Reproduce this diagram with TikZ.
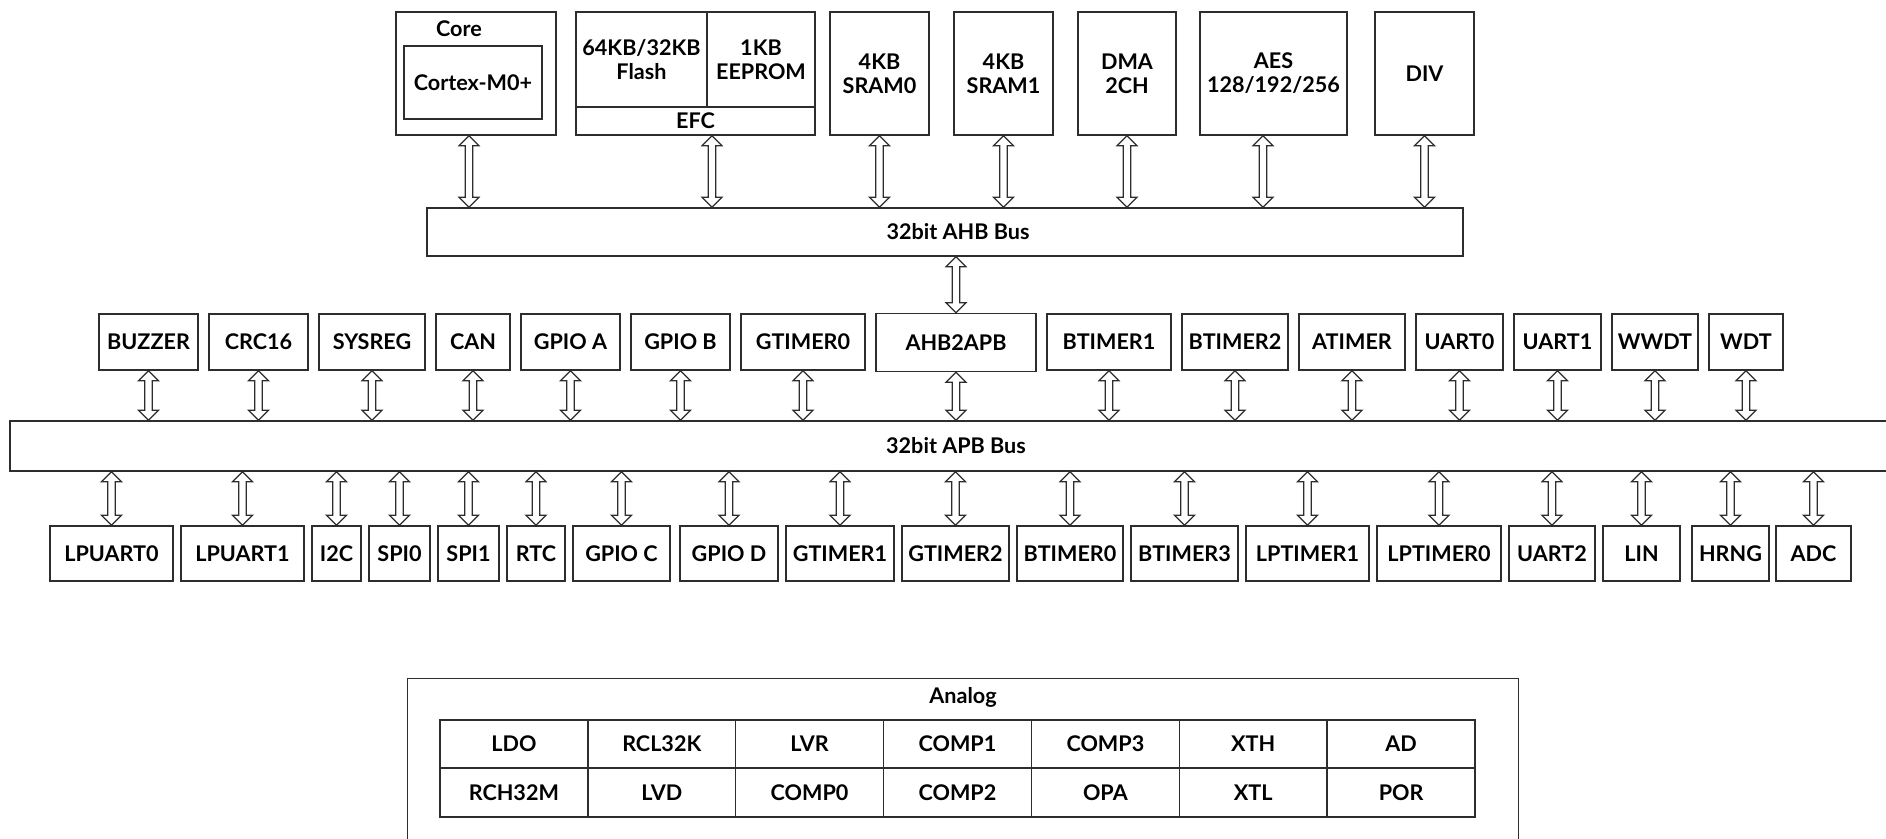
\documentclass[tikz,border=0pt]{standalone}
\usepackage{fontspec}
\setmainfont{Lato}
\usepackage{tikz}
\usetikzlibrary{calc}

\tikzset{
  blk/.style={draw={rgb, 255:red, 45; green, 45; blue, 45}, line width=0.7pt, fill=white, inner sep=0pt, align=center, font=\bfseries\fontsize{10.8}{12}\selectfont},
  lbl/.style={inner sep=0pt, align=center, font=\bfseries\fontsize{10.8}{12}\selectfont},
  busarrow/.style={draw={rgb, 255:red, 45; green, 45; blue, 45}, line width=0.6pt, fill=white,
    to path={let \p1=(\tikztostart), \p2=(\tikztotarget) in
      (\x1,\y1) -- (\x1+5pt,\y1+5pt) -- (\x1+1.9pt,\y1+5pt) -- (\x1+1.9pt,\y2-5pt) -- (\x1+5pt,\y2-5pt) -- (\x1,\y2)
      -- (\x1-5pt,\y2-5pt) -- (\x1-1.9pt,\y2-5pt) -- (\x1-1.9pt,\y1+5pt) -- (\x1-5pt,\y1+5pt) -- cycle}}
}

\begin{document}
\begin{tikzpicture}[x=0.5pt,y=0.5pt,yscale=-1,xscale=1]
\useasboundingbox (0,0) rectangle (1886,839);
\clip (0,0) rectangle (1886,839);

%Shape: Rectangle - core
\node[blk, minimum width=80pt, minimum height=61.5pt] (core) at (476,73.5) {};
\node[lbl] (corelbl) at (459,29) {Core};
\node[blk, minimum width=69pt, minimum height=36.5pt] (cortex) at (473,82.5) {Cortex-M0+};

%Shape: Rectangle - flash / eeprom / efc
\node[blk, minimum width=65.5pt, minimum height=47.5pt] (flash) at (641.5,59.5) {64KB/32KB\\Flash};
\node[blk, minimum width=54pt, minimum height=47.5pt] (eeprom) at (761,59.5) {1KB\\EEPROM};
\node[blk, minimum width=119.5pt, minimum height=14pt] (efc) at (695.5,121) {EFC};

%Shape: Rectangle - ahb masters and slaves
\node[blk, minimum width=49.5pt, minimum height=61.5pt] (sram0) at (879.5,73.5) {4KB\\SRAM0};
\node[blk, minimum width=49.5pt, minimum height=61.5pt] (sram1) at (1003.5,73.5) {4KB\\SRAM1};
\node[blk, minimum width=49pt, minimum height=61.5pt] (dma) at (1127,73.5) {DMA\\2CH};
\node[blk, minimum width=73.5pt, minimum height=61.5pt] (aes) at (1273.5,73.5) {AES\\128/192/256};
\node[blk, minimum width=49.5pt, minimum height=61.5pt] (div) at (1424.5,73.5) {DIV};

%Shape: Rectangle - ahb bus
\node[blk, minimum width=518pt, minimum height=24pt] (ahb) at (945,232) {};
\node[lbl] (ahblbl) at (958,232) {32bit AHB Bus};

%Double arrows - ahb
\draw[busarrow] ([xshift=-3.5pt]core.south) to (ahb.north);
\draw[busarrow] ([xshift=8.25pt]efc.south) to (ahb.north);
\draw[busarrow] (sram0.south) to (ahb.north);
\draw[busarrow] (sram1.south) to (ahb.north);
\draw[busarrow] (dma.south) to (ahb.north);
\draw[busarrow] ([xshift=-5.25pt]aes.south) to (ahb.north);
\draw[busarrow] (div.south) to (ahb.north);

%Shape: Rectangle - apb upper row
\node[blk, minimum width=49.5pt, minimum height=28pt] (buzzer) at (148.5,342) {BUZZER};
\node[blk, minimum width=49.5pt, minimum height=28pt] (crc) at (258.5,342) {CRC16};
\node[blk, minimum width=53pt, minimum height=28pt] (sysreg) at (372,342) {SYSREG};
\node[blk, minimum width=37pt, minimum height=28pt] (can) at (473,342) {CAN};
\node[blk, minimum width=49.5pt, minimum height=28pt] (gpioa) at (570.5,342) {GPIO A};
\node[blk, minimum width=49.5pt, minimum height=28pt] (gpiob) at (680.5,342) {GPIO B};
\node[blk, minimum width=62pt, minimum height=28pt] (gtim0) at (803,342) {GTIMER0};
\node[blk, minimum width=80pt, minimum height=29pt] (ahb2apb) at (956,342.5) {AHB2APB};
\node[blk, minimum width=62pt, minimum height=28pt] (btim1) at (1109,342) {BTIMER1};
\node[blk, minimum width=53pt, minimum height=28pt] (btim2) at (1235,342) {BTIMER2};
\node[blk, minimum width=53pt, minimum height=28pt] (atim) at (1352,342) {ATIMER};
\node[blk, minimum width=43.5pt, minimum height=28pt] (uart0) at (1459.5,342) {UART0};
\node[blk, minimum width=43.5pt, minimum height=28pt] (uart1) at (1557.5,342) {UART1};
\node[blk, minimum width=43pt, minimum height=28pt] (wwdt) at (1655,342) {WWDT};
\node[blk, minimum width=37pt, minimum height=28pt] (wdt) at (1746,342) {WDT};

%Shape: Rectangle - apb bus
\node[blk, minimum width=945pt, minimum height=25pt] (apb) at (955,446) {};
\node[lbl] (apblbl) at (956,446) {32bit APB Bus};

%Double arrow - ahb to bridge
\draw[busarrow] (ahb.south -| ahb2apb) to (ahb2apb.north);

%Double arrows - apb upper row
\draw[busarrow] (buzzer.south) to (apb.north);
\draw[busarrow] (crc.south) to (apb.north);
\draw[busarrow] (sysreg.south) to (apb.north);
\draw[busarrow] (can.south) to (apb.north);
\draw[busarrow] (gpioa.south) to (apb.north);
\draw[busarrow] (gpiob.south) to (apb.north);
\draw[busarrow] (gtim0.south) to (apb.north);
\draw[busarrow] (ahb2apb.south) to (apb.north);
\draw[busarrow] (btim1.south) to (apb.north);
\draw[busarrow] (btim2.south) to (apb.north);
\draw[busarrow] (atim.south) to (apb.north);
\draw[busarrow] (uart0.south) to (apb.north);
\draw[busarrow] (uart1.south) to (apb.north);
\draw[busarrow] (wwdt.south) to (apb.north);
\draw[busarrow] (wdt.south) to (apb.north);

%Shape: Rectangle - apb lower row
\node[blk, minimum width=61.5pt, minimum height=27.5pt] (lpuart0) at (111.5,553.5) {LPUART0};
\node[blk, minimum width=61.5pt, minimum height=27.5pt] (lpuart1) at (242.5,553.5) {LPUART1};
\node[blk, minimum width=24.5pt, minimum height=27.5pt] (iic) at (336.5,553.5) {I2C};
\node[blk, minimum width=30.5pt, minimum height=27.5pt] (spi0) at (399.5,553.5) {SPI0};
\node[blk, minimum width=30.5pt, minimum height=27.5pt] (spi1) at (468.5,553.5) {SPI1};
\node[blk, minimum width=29pt, minimum height=27.5pt] (rtc) at (536,553.5) {RTC};
\node[blk, minimum width=48.5pt, minimum height=27.5pt] (gpioc) at (621.5,553.5) {GPIO C};
\node[blk, minimum width=49pt, minimum height=27.5pt] (gpiod) at (729,553.5) {GPIO D};
\node[blk, minimum width=54pt, minimum height=27.5pt] (gtim1) at (840,553.5) {GTIMER1};
\node[blk, minimum width=53.5pt, minimum height=27.5pt] (gtim2) at (955.5,553.5) {GTIMER2};
\node[blk, minimum width=53pt, minimum height=27.5pt] (btim0) at (1070,553.5) {BTIMER0};
\node[blk, minimum width=53.5pt, minimum height=27.5pt] (btim3) at (1184.5,553.5) {BTIMER3};
\node[blk, minimum width=61.5pt, minimum height=27.5pt] (lptim1) at (1307.5,553.5) {LPTIMER1};
\node[blk, minimum width=62pt, minimum height=27.5pt] (lptim0) at (1439,553.5) {LPTIMER0};
\node[blk, minimum width=43pt, minimum height=27.5pt] (uart2) at (1552,553.5) {UART2};
\node[blk, minimum width=38.5pt, minimum height=27.5pt] (lin) at (1641.5,553.5) {LIN};
\node[blk, minimum width=38.5pt, minimum height=27.5pt] (hrng) at (1730.5,553.5) {HRNG};
\node[blk, minimum width=37.5pt, minimum height=27.5pt] (adc) at (1813.5,553.5) {ADC};

%Double arrows - apb lower row
\draw[busarrow] (apb.south -| lpuart0) to (lpuart0.north);
\draw[busarrow] (apb.south -| lpuart1) to (lpuart1.north);
\draw[busarrow] (apb.south -| iic) to (iic.north);
\draw[busarrow] (apb.south -| spi0) to (spi0.north);
\draw[busarrow] (apb.south -| spi1) to (spi1.north);
\draw[busarrow] (apb.south -| rtc) to (rtc.north);
\draw[busarrow] (apb.south -| gpioc) to (gpioc.north);
\draw[busarrow] (apb.south -| gpiod) to (gpiod.north);
\draw[busarrow] (apb.south -| gtim1) to (gtim1.north);
\draw[busarrow] (apb.south -| gtim2) to (gtim2.north);
\draw[busarrow] (apb.south -| btim0) to (btim0.north);
\draw[busarrow] (apb.south -| btim3) to (btim3.north);
\draw[busarrow] (apb.south -| lptim1) to (lptim1.north);
\draw[busarrow] (apb.south -| lptim0) to (lptim0.north);
\draw[busarrow] (apb.south -| uart2) to (uart2.north);
\draw[busarrow] (apb.south -| lin) to (lin.north);
\draw[busarrow] (apb.south -| hrng) to (hrng.north);
\draw[busarrow] (apb.south -| adc) to (adc.north);

%Shape: Rectangle - analog group
\node[blk, anchor=north west, minimum width=555.5pt, minimum height=91pt] (analog) at (407,678) {};
\node[lbl] (analoglbl) at (963,697) {Analog};

%Shape: Rectangle - analog cells, first row
\node[blk, minimum width=73.93pt, minimum height=24pt] (ldo) at (513.9,744) {LDO};
\node[blk, minimum width=73.93pt, minimum height=24pt] (rcl) at (661.8,744) {RCL32K};
\node[blk, minimum width=73.93pt, minimum height=24pt] (lvr) at (809.6,744) {LVR};
\node[blk, minimum width=73.93pt, minimum height=24pt] (comp1) at (957.5,744) {COMP1};
\node[blk, minimum width=73.93pt, minimum height=24pt] (comp3) at (1105.4,744) {COMP3};
\node[blk, minimum width=73.93pt, minimum height=24pt] (xth) at (1253.2,744) {XTH};
\node[blk, minimum width=73.93pt, minimum height=24pt] (ad) at (1401.1,744) {AD};

%Shape: Rectangle - analog cells, second row
\node[blk, minimum width=73.93pt, minimum height=24.5pt] (rch) at (513.9,792.5) {RCH32M};
\node[blk, minimum width=73.93pt, minimum height=24.5pt] (lvd) at (661.8,792.5) {LVD};
\node[blk, minimum width=73.93pt, minimum height=24.5pt] (comp0) at (809.6,792.5) {COMP0};
\node[blk, minimum width=73.93pt, minimum height=24.5pt] (comp2) at (957.5,792.5) {COMP2};
\node[blk, minimum width=73.93pt, minimum height=24.5pt] (opa) at (1105.4,792.5) {OPA};
\node[blk, minimum width=73.93pt, minimum height=24.5pt] (xtl) at (1253.2,792.5) {XTL};
\node[blk, minimum width=73.93pt, minimum height=24.5pt] (por) at (1401.1,792.5) {POR};

\end{tikzpicture}
\end{document}
